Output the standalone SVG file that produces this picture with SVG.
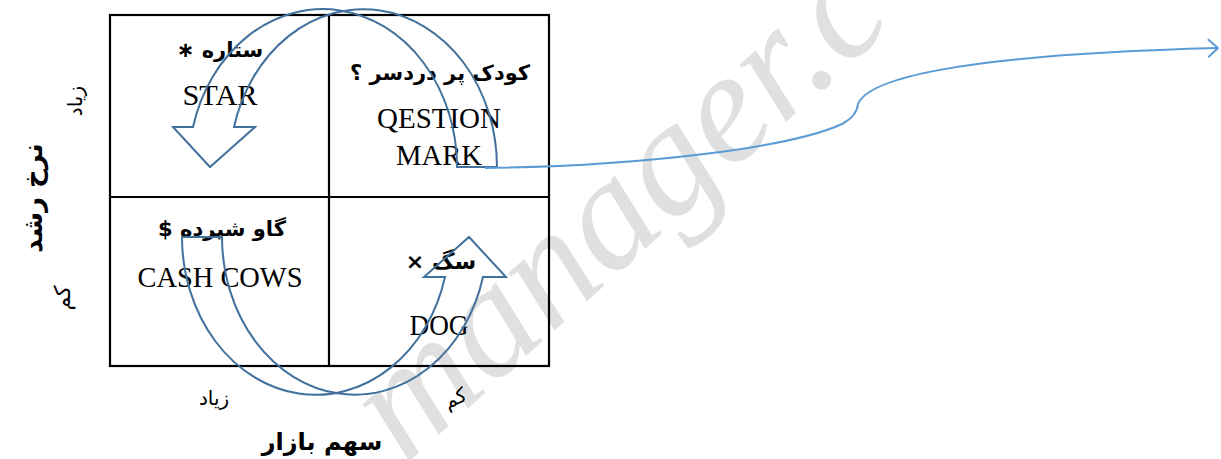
<svg xmlns="http://www.w3.org/2000/svg" width="1221" height="459" viewBox="0 0 1221 459">
<style>
.wm{font-family:"Liberation Serif",serif;font-style:italic;font-size:160px;fill:#e0e0e0}
.grid{fill:none;stroke:#000;stroke-width:2.2}
.ca{fill:none;stroke:#41719C;stroke-width:2}
.conn{fill:none;stroke:#5B9BD5;stroke-width:2}
.fa{font-family:"DejaVu Sans",sans-serif;direction:rtl;text-anchor:middle;fill:#000}
.fab{font-family:"DejaVu Sans",sans-serif;font-weight:bold;direction:rtl;text-anchor:middle;fill:#000}
.en{font-family:"Liberation Serif",serif;font-size:30px;text-anchor:middle;fill:#000}
</style>
<defs>
<marker id="open" viewBox="0 0 12 20" refX="11" refY="10" markerWidth="12" markerHeight="20" markerUnits="userSpaceOnUse" orient="auto">
<polyline points="1,1 11,10 1,19" fill="none" stroke="#5B9BD5" stroke-width="2"/>
</marker>
</defs>
<rect width="1221" height="459" fill="#fff"/>
<text class="wm" x="405" y="465" transform="rotate(-42 405 465)">manager.c</text>
<g id="matrix">
<rect class="grid" x="110" y="15" width="439" height="351"/>
<line class="grid" x1="329" y1="15" x2="329" y2="366"/>
<line class="grid" x1="110" y1="197" x2="549" y2="197"/>
</g>
<g id="star">
<text class="fab" x="220" y="57" font-size="21">ستاره ∗</text>
<text class="en" x="220" y="105" textLength="75" lengthAdjust="spacingAndGlyphs">STAR</text>
</g>
<g id="question">
<text class="fab" x="440" y="80" font-size="21">کودک پر دردسر ؟</text>
<text class="en" x="439" y="128" textLength="124" lengthAdjust="spacingAndGlyphs">QESTION</text>
<text class="en" x="439" y="165" textLength="86" lengthAdjust="spacingAndGlyphs">MARK</text>
</g>
<g id="cash">
<text class="fab" x="222" y="236" font-size="21">گاو شیرده $</text>
<text class="en" x="220" y="287" textLength="165" lengthAdjust="spacingAndGlyphs">CASH COWS</text>
</g>
<g id="dog">
<text class="fab" x="441" y="269" font-size="22">سگ ×</text>
<text class="en" x="439" y="335" textLength="59" lengthAdjust="spacingAndGlyphs">DOG</text>
</g>
<g id="axes">
<text class="fa" x="214" y="405" font-size="20">زیاد</text>
<text class="fa" x="455" y="405" font-size="20" transform="rotate(-25 455 398)">کم</text>
<text class="fab" x="322" y="450" font-size="24">سهم بازار</text>
<text class="fab" x="42" y="198" font-size="26" transform="rotate(-90 42 198)">نرخ رشد</text>
<text class="fa" x="82" y="101" font-size="20" transform="rotate(-90 82 101)">زیاد</text>
<text class="fa" x="70" y="298" font-size="22" transform="rotate(-90 70 298)">کم</text>
</g>
<g id="connectors">
<path id="arrow-top" class="ca" d="M457,167 A134.2 158 0 0 0 193,127 L173,127 L210,167 L255,127 L234,127 A133.7 158 0 0 1 497,167 Z"/>
<path id="arrow-bottom" class="ca" d="M182,237 A133.7 158 0 0 0 445,277 L424,277 L469,237 L506,277 L483,277 A132.7 158 0 0 1 222,237 Z"/>
<path id="link" class="conn" marker-end="url(#open)" d="M485,168 C640,166 790,148 842,124 Q857,116 858,104 C868,80 950,55 1218,48"/>
</g>
</svg>
